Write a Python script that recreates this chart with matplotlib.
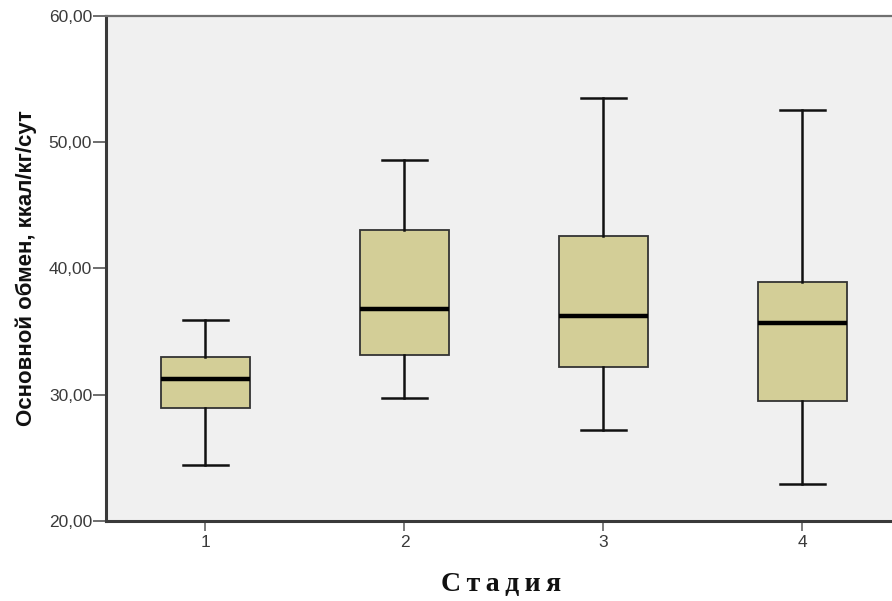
import matplotlib
matplotlib.use("Agg")
import matplotlib.pyplot as plt
from matplotlib.ticker import FuncFormatter

# Stage groups and five-number summaries of basal metabolic rate (kcal/kg/day)
stages = ["1", "2", "3", "4"]
whisker_low = [24.4, 29.75, 27.2, 22.9]
q1 = [28.9, 33.1, 32.2, 29.5]
medians = [31.2, 36.8, 36.2, 35.65]
q3 = [33.0, 43.0, 42.6, 38.9]
whisker_high = [35.9, 48.6, 53.5, 52.55]

y_ticks = [20, 30, 40, 50, 60]
y_label = "Основной обмен, ккал/кг/сут"
x_label = "С\u2009т\u2009а\u2009д\u2009и\u2009я"

box_fill = "#D3CE97"
edge_col = "#333333"

fig = plt.figure(figsize=(8.92, 6.01), dpi=100)
ax = fig.add_axes([106 / 892, 1 - 520.7 / 601, 1 - 106 / 892, (520.7 - 16) / 601])
ax.set_facecolor("#F0F0F0")

stats = []
for i, name in enumerate(stages):
    stats.append({
        "label": name,
        "whislo": whisker_low[i],
        "q1": q1[i],
        "med": medians[i],
        "q3": q3[i],
        "whishi": whisker_high[i],
        "fliers": [],
    })

positions = list(range(1, len(stages) + 1))
ax.bxp(
    stats,
    positions=positions,
    widths=0.445,
    patch_artist=True,
    showfliers=False,
    boxprops=dict(facecolor=box_fill, edgecolor=edge_col, linewidth=1.3),
    medianprops=dict(color="black", linewidth=3.2, solid_capstyle="butt"),
    whiskerprops=dict(color="#111111", linewidth=1.8),
    capprops=dict(color="#111111", linewidth=1.8),
    capwidths=0.226,
)

ax.set_xlim(0.5, 4.45)
ax.set_ylim(20, 60)
ax.set_yticks(y_ticks)
ax.yaxis.set_major_formatter(FuncFormatter(lambda v, _: f"{v:.2f}".replace(".", ",")))
ax.set_xticks(positions)
ax.set_xticklabels(stages)

for lbl in ax.get_xticklabels() + ax.get_yticklabels():
    lbl.set_fontfamily("Liberation Sans")
    lbl.set_fontsize(12.5)
    lbl.set_color("#3a3a3a")

ax.tick_params(axis="y", length=9.5, width=1.2, color="#555555", pad=0.5)
ax.tick_params(axis="x", length=7.5, width=1.2, color="#666666", pad=3)

for side in ("left", "bottom"):
    ax.spines[side].set_linewidth(2.2)
    ax.spines[side].set_color("#3a3a3a")
ax.spines["top"].set_linewidth(1.6)
ax.spines["top"].set_color("#707070")
ax.spines["right"].set_visible(False)

ax.set_ylabel(y_label, family=["Liberation Sans Narrow", "Liberation Sans"],
              fontweight="bold", fontsize=16, va="center", color="#111111")
ax.yaxis.set_label_coords(-0.102, 0.5)

ax.set_xlabel(x_label, family=["Liberation Serif", "DejaVu Serif"],
              fontweight="bold", fontsize=20, va="center", color="#111111")
ax.xaxis.set_label_coords(0.503, -0.127)

fig.savefig("out.png", dpi=100)
